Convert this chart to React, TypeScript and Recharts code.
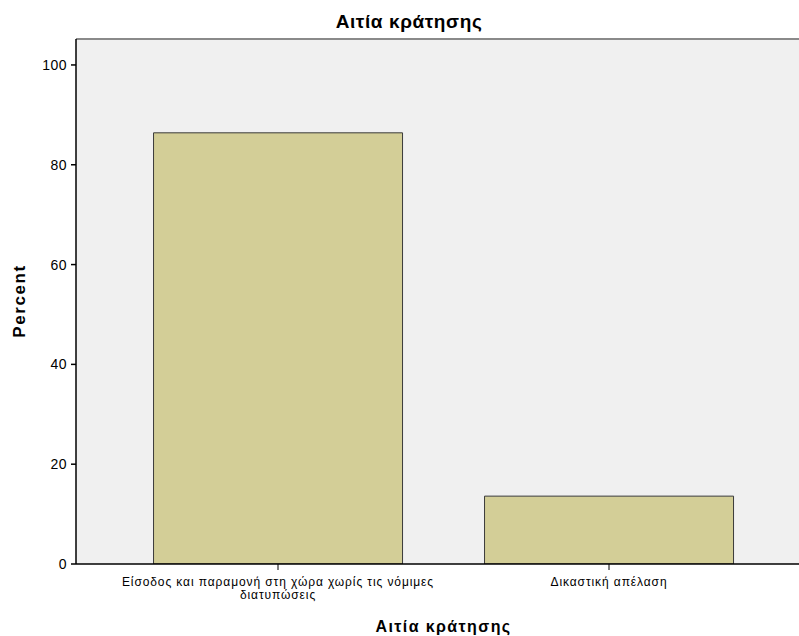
import { BarChart, Bar, XAxis, YAxis, CartesianGrid, ReferenceLine, Text } from 'recharts';

const categories = ['Είσοδος και παραμονή στη χώρα χωρίς τις νόμιμες διατυπώσεις', 'Δικαστική απέλαση'];
const percents = [86.4, 13.6];
const yTicks = [0, 20, 40, 60, 80, 100];
const Y_MAX = 105.2;

const data = categories.map((name, i) => ({ name, percent: percents[i] }));

const FONT = '"Liberation Sans", Arial, sans-serif';

function WrapTick(props: any) {
  const { x, y, payload } = props;
  return (
    <Text
      x={x}
      y={y + 5}
      width={330}
      textAnchor="middle"
      verticalAnchor="start"
      fontSize={12}
      fontFamily={FONT}
      fill="#000"
      lineHeight={13.5}
      style={{ letterSpacing: 0.9 }}
    >
      {payload.value}
    </Text>
  );
}

export default function App() {
  return (
    <div style={{ position: 'absolute', left: 0, top: 0, width: 799, height: 636, overflow: 'hidden', background: '#fff' }}>
      <div
        style={{
          position: 'absolute',
          left: 0,
          width: 818,
          top: 12,
          textAlign: 'center',
          fontFamily: FONT,
          fontWeight: 'bold',
          fontSize: 19,
          lineHeight: '20px',
          letterSpacing: 0.6,
        }}
      >
        Αιτία κράτησης
      </div>
      <div style={{ position: 'absolute', left: 0, top: 0 }}>
        <BarChart
          width={830}
          height={636}
          data={data}
          margin={{ top: 39, right: 19, bottom: 22, left: 0 }}
          barCategoryGap="12.4%"
        >
          <CartesianGrid fill="#F0F0F0" horizontal={false} vertical={false} />
          <XAxis
            dataKey="name"
            height={50}
            padding={{ left: 36.5, right: 36.5 }}
            axisLine={{ stroke: '#000', strokeWidth: 1.5 }}
            tickLine={{ stroke: '#000' }}
            tickSize={6}
            tick={<WrapTick />}
            interval={0}
            label={{
              value: 'Αιτία κράτησης',
              position: 'bottom',
              offset: 6.5,
              style: { fontFamily: FONT, fontWeight: 'bold', fontSize: 16, fill: '#000', letterSpacing: 1.4 },
            }}
          />
          <YAxis
            width={76}
            domain={[0, Y_MAX]}
            ticks={yTicks}
            allowDataOverflow
            axisLine={{ stroke: '#000', strokeWidth: 1.5 }}
            tickLine={{ stroke: '#000', strokeWidth: 1.5 }}
            tickSize={5}
            tickMargin={4}
            tick={{ fontFamily: FONT, fontSize: 14, fill: '#000', style: { letterSpacing: 0.5 } }}
            label={{
              value: 'Percent',
              angle: -90,
              content: () => (
                <text
                  x={25}
                  y={301}
                  transform="rotate(-90 25 301)"
                  textAnchor="middle"
                  fontFamily={FONT}
                  fontWeight="bold"
                  fontSize={17}
                  fill="#000"
                  style={{ letterSpacing: 1.6 }}
                >
                  Percent
                </text>
              ),
            }}
          />
          <ReferenceLine y={Y_MAX} stroke="#8a8a8a" strokeWidth={2} ifOverflow="visible" />
          <Bar dataKey="percent" fill="#D3CE97" stroke="#3a3a3a" strokeWidth={1} isAnimationActive={false} />
        </BarChart>
      </div>
    </div>
  );
}
